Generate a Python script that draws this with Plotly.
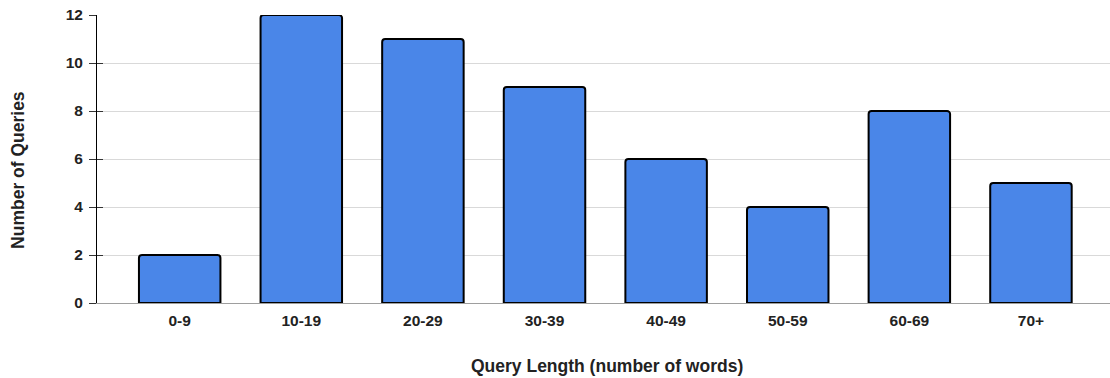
import plotly.graph_objects as go

# Query length buckets and how many queries fall in each
length_buckets = ["0-9", "10-19", "20-29", "30-39", "40-49", "50-59", "60-69", "70+"]
query_counts = [2, 12, 11, 9, 6, 4, 8, 5]
y_ticks = [0, 2, 4, 6, 8, 10, 12]

FONT = "Liberation Sans, Arial, sans-serif"
TEXT = "#222222"

fig = go.Figure()
fig.add_trace(go.Bar(
    x=list(range(len(length_buckets))),
    y=query_counts,
    marker=dict(color="#4a86e8", line=dict(color="#000000", width=2)),
    width=0.67,
    hoverinfo="skip",
))

fig.update_layout(
    width=1110,
    height=378,
    margin=dict(l=97, r=0, t=15, b=75),
    paper_bgcolor="white",
    plot_bgcolor="white",
    showlegend=False,
    barcornerradius=3,
    font=dict(family=FONT, size=15.5, color=TEXT),
    xaxis=dict(
        range=[-0.68, 7.65],
        tickmode="array",
        tickvals=list(range(len(length_buckets))),
        ticktext=[f"<b>{t}</b>" for t in length_buckets],
        ticks="outside",
        ticklen=3,
        tickcolor="rgba(0,0,0,0)",
        showgrid=False,
        zeroline=False,
        showline=True,
        linecolor="#9e9e9e",
        linewidth=1,
        tickfont=dict(size=15.5, color=TEXT),
    ),
    yaxis=dict(
        range=[0, 12],
        tickmode="array",
        tickvals=y_ticks,
        ticktext=[f"<b>{v}</b>" for v in y_ticks],
        ticks="outside",
        ticklen=7,
        tickcolor="#333333",
        ticklabelstandoff=3,
        showgrid=True,
        gridcolor="#d9d9d9",
        gridwidth=1,
        zeroline=False,
        showline=True,
        linecolor="#000000",
        linewidth=1,
        tickfont=dict(size=15.5, color=TEXT),
    ),
    # overlay axis draws the short inward half of each tick mark
    yaxis2=dict(
        overlaying="y",
        matches="y",
        side="left",
        tickmode="array",
        tickvals=y_ticks,
        ticks="inside",
        ticklen=6,
        tickcolor="#333333",
        showticklabels=False,
        showgrid=False,
        zeroline=False,
    ),
    annotations=[
        dict(text="<b>Query Length (number of words)</b>", xref="paper", yref="paper",
             x=0.503, y=-0.219, xanchor="center", yanchor="middle", showarrow=False,
             font=dict(size=17.5, color=TEXT)),
        dict(text="<b>Number of Queries</b>", xref="paper", yref="paper",
             x=-0.078, y=0.462, xanchor="center", yanchor="middle", showarrow=False,
             textangle=-90, font=dict(size=17.5, color=TEXT)),
    ],
)

# invisible trace to activate the overlay axis
fig.add_trace(go.Scatter(x=[0], y=[0], yaxis="y2", mode="markers",
                         marker=dict(opacity=0), hoverinfo="skip"))

fig.write_html("out.html")
